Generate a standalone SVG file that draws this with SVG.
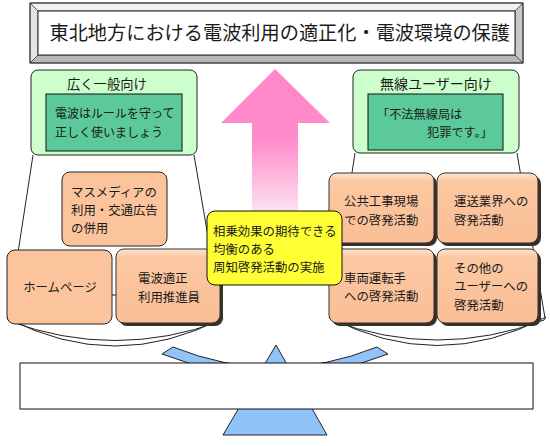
<svg xmlns="http://www.w3.org/2000/svg" width="550" height="446" viewBox="0 0 550 446">
<defs>
<style>
text{font-family:"Noto Sans CJK JP","Noto Sans CJK SC",sans-serif;fill:#1a1a1a;font-size:12.4px}
.ln{stroke:#222;stroke-width:1;fill:none}
.gbox{fill:#CCFFCC;stroke:#222;stroke-width:1}
.ibox{fill:#5CC99B;stroke:#111;stroke-width:1}
.flat{fill:#FCC49C;stroke:#222;stroke-width:1}
.td{fill:url(#og);stroke:#333;stroke-width:1}
.sh{fill:#3a3028}
.blue{fill:#90C4F8;stroke:#222;stroke-width:1}
.pan{fill:#fff;stroke:#222;stroke-width:1}
.bev{stroke:#444;stroke-width:0.8}
</style>
<linearGradient id="og" x1="0" y1="0" x2="0" y2="1">
<stop offset="0" stop-color="#FFE4CC"/>
<stop offset="0.12" stop-color="#FCC8A2"/>
<stop offset="1" stop-color="#F9BE96"/>
</linearGradient>
<linearGradient id="pg" gradientUnits="userSpaceOnUse" x1="0" y1="69" x2="0" y2="212">
<stop offset="0" stop-color="#FF88C8"/>
<stop offset="0.5" stop-color="#FF8CCA"/>
<stop offset="1" stop-color="#FCE2F0"/>
</linearGradient>
</defs>
<rect width="550" height="446" fill="#fff"/>

<g id="title">
<polygon class="bev" points="30,3 523,3 515,11 38,11" fill="#F2F2F2"/>
<polygon class="bev" points="30,3 38,11 38,55 30,63" fill="#E4E4E4"/>
<polygon class="bev" points="523,3 523,63 515,55 515,11" fill="#C8C8C8"/>
<polygon class="bev" points="30,63 523,63 515,55 38,55" fill="#B8B8B8"/>
<rect x="38" y="11" width="477" height="44" fill="#fff" stroke="#222" stroke-width="1"/>
<rect x="30" y="3" width="493" height="60" fill="none" stroke="#333" stroke-width="1"/>
<text x="49.5" y="40" style="font-size:19.2px">東北地方における電波利用の適正化・電波環境の保護</text>
</g>

<g id="scale">
<path class="blue" d="M173,347 Q275,388 377,347 L388,354 Q275,398 162,354 Z"/>
<polygon class="blue" points="276,345 327,435 223,435"/>
<rect x="20" y="363" width="513" height="46" fill="#fff" stroke="#111" stroke-width="1"/>
</g>

<g id="arrow">
<polygon points="275,69 330,123 298,123 298,212 252,212 252,123 221,123" fill="url(#pg)"/>
</g>

<g id="connectors">
<line class="ln" x1="33" y1="155" x2="8" y2="318"/>
<line class="ln" x1="194" y1="155" x2="222" y2="318"/>
<line class="ln" x1="355" y1="153" x2="330" y2="318"/>
<line class="ln" x1="517" y1="153" x2="545" y2="318"/>
<line class="ln" x1="110" y1="295" x2="118" y2="295"/>
<line class="ln" x1="435.5" y1="288" x2="435.5" y2="303"/>
</g>

<g id="pan-left">
<path class="pan" d="M7,318 Q115,374 223,318 L221,321 Q115,360 9,321 Z"/>
</g>
<g id="pan-right">
<path class="pan" d="M329,317 Q437,374 546,317 L544,320 Q437,360 331,320 Z"/>
</g>

<g id="general">
<rect class="gbox" x="31" y="70" width="166" height="85" rx="7"/>
<text x="67" y="89" style="font-size:13.3px">広く一般向け</text>
<rect class="ibox" x="46" y="94" width="136" height="57"/>
<text x="55" y="117.6" style="font-size:12px">電波はルールを守って</text>
<text x="55" y="136.6" style="font-size:12px">正しく使いましょう</text>
</g>

<g id="radio-users">
<rect class="gbox" x="353" y="70" width="166" height="83" rx="7"/>
<text x="380" y="89" style="font-size:14px">無線ユーザー向け</text>
<rect class="ibox" x="368" y="94" width="135" height="56"/>
<text x="377" y="118.6" style="font-size:12.2px">「不法無線局は</text>
<text x="427" y="136.6" style="font-size:12.2px">犯罪です。」</text>
</g>

<g id="massmedia">
<rect class="flat" x="62" y="172" width="105" height="74" rx="8"/>
<text x="71" y="196.6">マスメディアの</text>
<text x="71" y="214.6">利用・交通広告</text>
<text x="71" y="232.6">の併用</text>
</g>

<g id="homepage">
<rect class="flat" x="7" y="250" width="105" height="74" rx="8"/>
<text x="60" y="291.6" text-anchor="middle">ホームページ</text>
</g>

<g id="promoter">
<rect class="sh" x="119" y="252" width="104" height="74" rx="8"/>
<rect class="td" x="116" y="249" width="104" height="74" rx="8"/>
<text x="138" y="282.6">電波適正</text>
<text x="138" y="301.6">利用推進員</text>
</g>

<g id="construction">
<rect class="sh" x="332" y="176" width="105" height="70" rx="8"/>
<rect class="td" x="329" y="173" width="105" height="70" rx="8"/>
<text x="344" y="206.3">公共工事現場</text>
<text x="344" y="224.6">での啓発活動</text>
</g>

<g id="transport">
<rect class="sh" x="440" y="176" width="101" height="70" rx="8"/>
<rect class="td" x="437" y="173" width="101" height="70" rx="8"/>
<text x="454" y="206.3">運送業界への</text>
<text x="454" y="224.6">啓発活動</text>
</g>

<g id="drivers">
<rect class="sh" x="332" y="252" width="105" height="74" rx="8"/>
<rect class="td" x="329" y="249" width="105" height="74" rx="8"/>
<text x="344" y="282.9">車両運転手</text>
<text x="344" y="301.3">への啓発活動</text>
</g>

<g id="other-users">
<rect class="sh" x="440" y="252" width="101" height="74" rx="8"/>
<rect class="td" x="437" y="249" width="101" height="74" rx="8"/>
<text x="454" y="272.9">その他の</text>
<text x="454" y="291.3">ユーザーへの</text>
<text x="454" y="309.6">啓発活動</text>
</g>

<g id="synergy">
<rect x="207" y="211" width="135" height="74" rx="8" fill="#FFFF33" stroke="#111" stroke-width="1"/>
<text x="213" y="235.6">相乗効果の期待できる</text>
<text x="213" y="253.6">均衡のある</text>
<text x="213" y="271.6">周知啓発活動の実施</text>
</g>
</svg>
